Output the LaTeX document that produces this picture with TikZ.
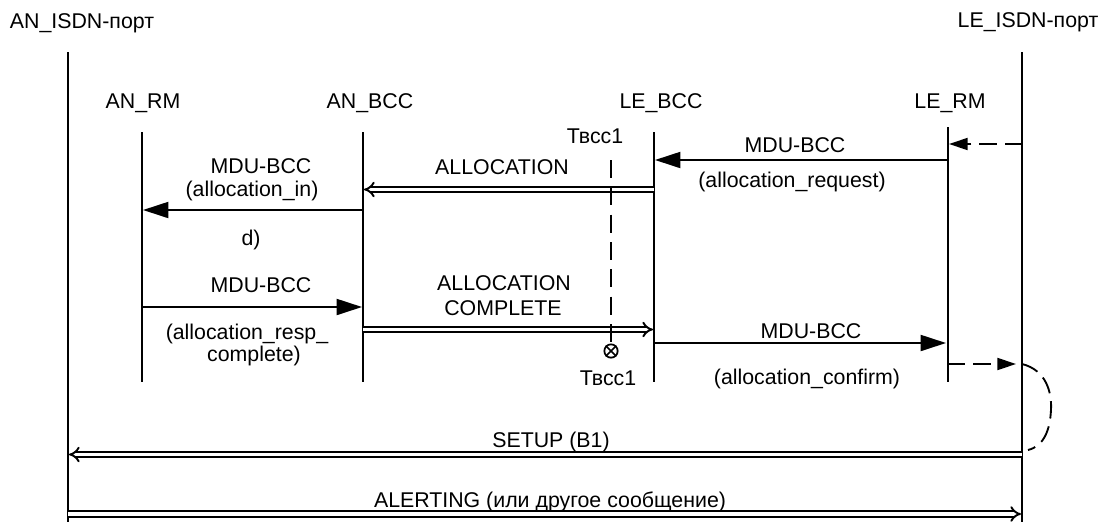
\documentclass[tikz,border=0pt]{standalone}
\usepackage{fontspec}
\setmainfont{Liberation Sans}
\usetikzlibrary{arrows.meta}
\begin{document}
\begin{tikzpicture}[x=0.75pt,y=-0.75pt,
  lbl/.style={font=\fontsize{16}{18}\selectfont, inner sep=0pt, anchor=base, align=center},
  life/.style={line width=1.4pt},
  msg/.style={line width=1.4pt,-{Triangle[length=19pt,width=12pt]}},
  dmsg/.style={line width=1.4pt, dash pattern=on 13pt off 6pt, -{Triangle[length=14pt,width=9pt]}},
  dbl/.style={double, double distance=2.4pt, line width=1.45pt, -{Implies}},
  tmr/.style={line width=1.4pt, dash pattern=on 13.5pt off 7pt},
  ]
\useasboundingbox (0,0) rectangle (1100,522);

% headers
\node[lbl] (hanisdn) at (82,28) {AN\_ISDN-порт};
\node[lbl] (hleisdn) at (1028,27) {LE\_ISDN-порт};
\node[lbl] (hanrm) at (143,108) {AN\_RM};
\node[lbl] (hanbcc) at (370,108) {AN\_BCC};
\node[lbl] (hlebcc) at (661,108) {LE\_BCC};
\node[lbl] (hlerm) at (950,108) {LE\_RM};

% lifeline ends
\coordinate (anisdn-t) at (68,52);   \coordinate (anisdn-b) at (68,522);
\coordinate (leisdn-t) at (1022,52); \coordinate (leisdn-b) at (1022,522);
\coordinate (anrm-t) at (142,132);   \coordinate (anrm-b) at (142,382);
\coordinate (anbcc-t) at (363,132);  \coordinate (anbcc-b) at (363,382);
\coordinate (lebcc-t) at (654,132);  \coordinate (lebcc-b) at (654,382);
\coordinate (lerm-t) at (948,127);   \coordinate (lerm-b) at (948,382);

\draw[life] (anisdn-t) -- (anisdn-b);
\draw[life] (leisdn-t) -- (leisdn-b);
\draw[life] (anrm-t) -- (anrm-b);
\draw[life] (anbcc-t) -- (anbcc-b);
\draw[life] (lebcc-t) -- (lebcc-b);
\draw[life] (lerm-t) -- (lerm-b);

% message points
\coordinate (m1a) at (1022,144); \coordinate (m1b) at (949,144);
\coordinate (m2a) at (948,160);  \coordinate (m2b) at (655,160);
\coordinate (m3a) at (654,189.5);\coordinate (m3b) at (364,189.5);
\coordinate (m4a) at (363,210);  \coordinate (m4b) at (143,210);
\coordinate (m5a) at (142,307);  \coordinate (m5b) at (362,307);
\coordinate (m6a) at (363,329.5);\coordinate (m6b) at (653,329.5);
\coordinate (m7a) at (654,343);  \coordinate (m7b) at (946,343);
\coordinate (m8a) at (948,364);  \coordinate (m8b) at (1016,364);
\coordinate (m9a) at (1022,454.5); \coordinate (m9b) at (69,454.5);
\coordinate (m10a) at (68,514);  \coordinate (m10b) at (1021,514);

\draw[dmsg] (m1a) -- (m1b);
\draw[msg] (m2a) -- (m2b);
\draw[dbl] (m3a) -- (m3b);
\draw[msg] (m4a) -- (m4b);
\draw[msg] (m5a) -- (m5b);
\draw[dbl] (m6a) -- (m6b);
\draw[msg] (m7a) -- (m7b);
\draw[dmsg] (m8a) -- (m8b);
\draw[dbl] (m9a) -- (m9b);
\draw[dbl] (m10a) -- (m10b);

% dashed curve
\coordinate (cv-s) at (1022,364);
\coordinate (cv-e) at (1028,450);
\draw[line width=1.4pt, dash pattern=on 13pt off 6pt]
  (cv-s) .. controls (1046,370) and (1052,392) .. (1051,410)
  .. controls (1050,430) and (1044,446) .. (cv-e);

% timer
\coordinate (tm-t) at (611,160);
\node[circle, draw, line width=1.3pt, minimum size=10pt, inner sep=0pt] (tm-x) at (611,351) {};
\draw[tmr] (tm-t) -- (tm-x.north);
\draw[line width=1.3pt] (tm-x.north west) -- (tm-x.south east);
\draw[line width=1.3pt] (tm-x.north east) -- (tm-x.south west);
\node[lbl] (tmlbl1) at (595,143) {Твсс1};
\node[lbl] (tmlbl2) at (608,385) {Твсс1};

% labels
\node[lbl] (l2a) at (795,152) {MDU-BCC};
\node[lbl] (l2b) at (792,187) {(allocation\_request)};
\node[lbl] (l3) at (502,174) {ALLOCATION};
\node[lbl] (l4a) at (261,173) {MDU-BCC};
\node[lbl] (l4b) at (252,196) {(allocation\_in)};
\node[lbl] (l4c) at (251,245) {d)};
\node[lbl] (l5a) at (261,292) {MDU-BCC};
\node[lbl] (l5b) at (247,339) {(allocation\_resp\_};
\node[lbl] (l5c) at (254,361) {complete)};
\node[lbl] (l6a) at (504,290) {ALLOCATION};
\node[lbl] (l6b) at (503,315) {COMPLETE};
\node[lbl] (l7a) at (811,338) {MDU-BCC};
\node[lbl] (l7b) at (807,384) {(allocation\_confirm)};
\node[lbl] (l9) at (551,447) {SETUP (B1)};
\node[lbl] (l10) at (550,507) {ALERTING (или другое сообщение)};
\end{tikzpicture}
\end{document}
